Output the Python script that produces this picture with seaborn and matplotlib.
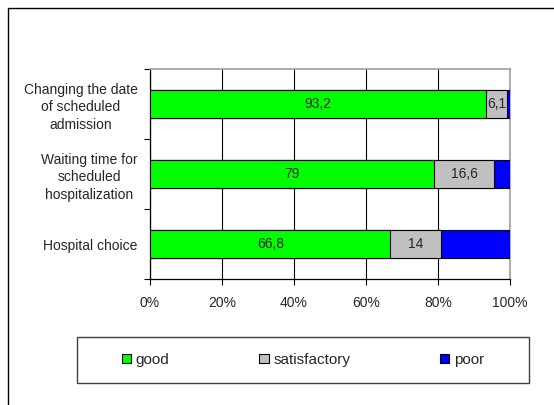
import pandas as pd
import numpy as np
import seaborn as sns
import matplotlib.pyplot as plt
from matplotlib.patches import Patch, Rectangle

## data
categories = ["Changing the date\nof scheduled\nadmission",
              "Waiting time for\nscheduled\nhospitalization",
              "Hospital choice"]
good = [93.2, 79.0, 66.8]
satisfactory = [6.1, 16.6, 14.0]
poor = [0.7, 4.4, 19.2]
series_names = ["good", "satisfactory", "poor"]
colors = ["#00ff00", "#c0c0c0", "#0000ff"]
xtick_labels = ["0%", "20%", "40%", "60%", "80%", "100%"]

df = pd.DataFrame({"category": categories, "good": good,
                   "satisfactory": satisfactory, "poor": poor})
tot = df[["good", "satisfactory", "poor"]].sum(axis=1)
## shares of 100%
df["c_good"] = df["good"] / tot
df["c_sat"] = (df["good"] + df["satisfactory"]) / tot
df["c_all"] = tot / tot

sns.set_style("white")
plt.rcParams["font.family"] = ["Liberation Sans", "DejaVu Sans"]
plt.rcParams["font.size"] = 10

fig = plt.figure(figsize=(5.54, 4.05), dpi=100)
ax = fig.add_axes([0.2708, 0.3111, 0.6498, 0.5185])

# stacked bars: draw cumulative totals back to front
for col, c in zip(["c_all", "c_sat", "c_good"], colors[::-1]):
    sns.barplot(data=df, y="category", x=col, orient="h", color=c,
                width=0.39, edgecolor="black", linewidth=0.8,
                saturation=1, ax=ax, zorder=3, order=categories)

# value labels for good / satisfactory
for i in range(len(categories)):
    g = df["c_good"][i]
    s = df["c_sat"][i]
    ax.text(g / 2, i, f"{good[i]:g}".replace(".", ","), ha="center",
            va="center", fontsize=10, zorder=5)
    ax.text((g + s) / 2, i, f"{satisfactory[i]:g}".replace(".", ","),
            ha="center", va="center", fontsize=10, zorder=5)

ax.set_xlim(0, 1)
ax.set_ylim(2.5, -0.5)
ax.set_xlabel("")
ax.set_ylabel("")
ax.set_xticks(np.linspace(0, 1, 6))
ax.set_xticklabels(xtick_labels)
ax.tick_params(axis="x", direction="out", length=4, width=0.8,
               color="black", pad=8, bottom=True)
ax.set_yticks(range(len(categories)))
ax.set_yticklabels(categories, multialignment="center", linespacing=1.35)
ax.tick_params(axis="y", which="major", length=0, pad=9)
ax.set_yticks([-0.5, 0.5, 1.5, 2.5], minor=True)
ax.tick_params(axis="y", which="minor", direction="out", length=4,
               width=0.8, color="black", left=True)
ax.xaxis.grid(True, color="black", linewidth=0.8)
ax.yaxis.grid(False)
ax.set_axisbelow(True)
for side in ["left", "bottom"]:
    ax.spines[side].set_color("black")
    ax.spines[side].set_linewidth(0.9)
for side in ["top", "right"]:
    ax.spines[side].set_color("#a0a0a0")
    ax.spines[side].set_linewidth(1.2)

# legend entries without frame, box drawn separately
handles = [Patch(facecolor=c, edgecolor="black", linewidth=0.8, label=n)
           for n, c in zip(series_names, colors)]
leg = fig.legend(handles=handles, loc="center", ncol=3,
                 bbox_to_anchor=(303 / 554, 1 - 360 / 405),
                 bbox_transform=fig.transFigure, frameon=False,
                 handlelength=0.6, handleheight=0.6, handletextpad=0.3,
                 columnspacing=5.9, borderaxespad=0, fontsize=11)
fig.patches.append(Rectangle((77 / 554, 1 - 383 / 405), 452 / 554, 46 / 405,
                             transform=fig.transFigure, fill=False,
                             edgecolor="#404040", linewidth=1.0))

# outer chart frame
fig.patches.append(Rectangle((8 / 554, -0.1), 1.2, 0.98 + 0.1,
                             transform=fig.transFigure, fill=False,
                             edgecolor="black", linewidth=1.0))

fig.savefig("out.png", dpi=100)
